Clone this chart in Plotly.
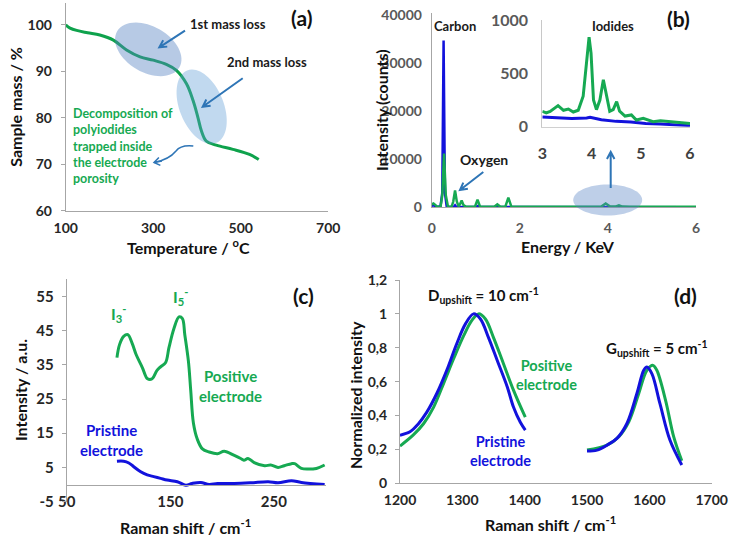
import math
import plotly.graph_objects as go

# ---------------- data ----------------
# (a) TGA
a_temp = [100, 110, 125, 150, 178, 209, 239, 270, 300, 330, 353, 376, 391, 402, 410, 421, 444, 482, 520, 541]
a_mass = [100, 99.3, 98.8, 98.3, 97.8, 96.7, 94.6, 93.1, 92.4, 91.5, 90.2, 87.3, 83.7, 80.1, 77.2, 75.0, 74.1, 73.2, 72.1, 71.0]
a_xticks = [100, 300, 500, 700]
a_yticks = [60, 70, 80, 90, 100]

# (b) EDX spectra
b_energy_green = [0.0, 0.04, 0.08, 0.13, 0.2, 0.24, 0.28, 0.32, 0.37, 0.45, 0.49, 0.53, 0.57, 0.61, 0.64,
                  0.68, 0.72, 0.78, 0.98, 1.04, 1.1, 1.42, 1.49, 1.56, 1.67, 1.74, 1.81, 1.95, 3.85, 3.95,
                  4.05, 4.17, 4.25, 4.33, 4.5, 6.0]
b_green = [600, 800, 500, 100, 100, 2500, 11200, 2500, 100, 100, 1200, 3500, 1200, 200, 600,
           1400, 500, 100, 100, 1600, 100, 100, 600, 100, 100, 2000, 100, 100, 150, 800,
           150, 150, 420, 150, 100, 100]
b_energy_blue = [0.0, 0.05, 0.12, 0.2, 0.24, 0.27, 0.30, 0.34, 0.4, 0.5, 0.53, 0.56, 1.0, 1.05, 1.1, 6.0]
b_blue = [300, 400, 50, 200, 3000, 34700, 3000, 200, 50, 50, 400, 50, 50, 300, 50, 30]
b_xticks = [0, 2, 4, 6]
b_yticks = [0, 10000, 20000, 30000, 40000]

# (b) inset
ins_energy_green = [3.0, 3.08, 3.16, 3.25, 3.32, 3.43, 3.53, 3.63, 3.73, 3.83, 3.9, 3.95, 3.99, 4.04, 4.1,
                    4.17, 4.24, 4.31, 4.37, 4.44, 4.51, 4.57, 4.68, 4.81, 4.91, 5.05, 5.25, 5.4, 5.59,
                    5.8, 6.0]
ins_green = [144, 130, 144, 170, 198, 154, 166, 138, 154, 285, 628, 840, 690, 250, 160,
             250, 440, 285, 145, 160, 235, 145, 100, 110, 62, 78, 47, 55, 47, 45, 30]
ins_energy_blue = [3.0, 3.3, 3.6, 3.9, 3.97, 4.2, 4.5, 4.8, 5.1, 5.4, 5.7, 6.0]
ins_blue = [90, 85, 78, 82, 88, 65, 50, 45, 30, 25, 20, 10]
ins_xticks = [3, 4, 5, 6]
ins_yticks = [0, 500, 1000]

# (c) Raman low shift
c_shift_pos = [98.5, 101, 105, 109, 113, 117, 123, 128, 132.5, 137, 140.6, 145.5, 148.7, 153.6, 158.4,
               161.7, 164, 167.5, 169.7, 172.3, 176, 181, 187.5, 195.6, 202, 211.8, 218, 221, 225,
               231, 241, 247, 254, 260, 267, 270, 276.5, 283, 291, 299]
c_pos = [37.1, 40.9, 43.3, 43.8, 41.4, 38, 34.2, 30.9, 30.9, 33.3, 34.4, 35.7, 40, 45.7, 49,
         48.5, 43.8, 36, 27.6, 18, 13.3, 10.4, 9.5, 9, 9.7, 8.5, 7.6, 7.1, 7.6,
         6.4, 5.5, 5.7, 5, 5.5, 6.1, 6.1, 4.7, 4.5, 4.7, 5.7]
c_shift_pri = [98.5, 105, 110, 114.7, 121, 127.7, 134, 140.6, 147, 156.8, 165, 171, 179.4, 187.5,
               195.6, 211.8, 228, 244.5, 254, 267, 276.5, 299]
c_pri = [6.8, 6.8, 6.3, 5.2, 3.8, 2.8, 2.3, 1.8, 1.3, 0.8, -0.2, 0.3, 0.6, 0,
         0.3, 0.3, 0.5, 0.8, 0.5, 1.1, 0.6, 0]
c_xticks = [50, 150, 250]
c_yticks = [-5, 5, 15, 25, 35, 45, 55]
c_yticktext = ["-5", "5", "15", "25", "35", "45", "55"]

# (d) Raman D and G bands
d_shift_pri_D = [1200, 1216, 1229, 1243, 1259, 1275, 1291, 1305, 1318, 1329, 1342, 1356, 1372, 1382, 1393, 1401]
d_pri_D = [0.284, 0.304, 0.349, 0.42, 0.53, 0.667, 0.824, 0.941, 1.0, 0.97, 0.86, 0.725, 0.57, 0.45, 0.36, 0.314]
d_shift_pos_D = [1200, 1221, 1238, 1254, 1270, 1286, 1302, 1315, 1326, 1337, 1350, 1366, 1382, 1401]
d_pos_D = [0.22, 0.284, 0.353, 0.45, 0.59, 0.735, 0.87, 0.96, 1.0, 0.97, 0.86, 0.706, 0.55, 0.39]
d_shift_pri_G = [1500, 1516, 1532, 1548, 1564, 1580, 1591, 1596, 1604, 1617, 1633, 1652]
d_pri_G = [0.19, 0.196, 0.225, 0.265, 0.353, 0.53, 0.667, 0.686, 0.647, 0.47, 0.255, 0.108]
d_shift_pos_G = [1500, 1532, 1551, 1567, 1583, 1596, 1606, 1612, 1626, 1639, 1652]
d_pos_G = [0.196, 0.225, 0.275, 0.363, 0.53, 0.667, 0.696, 0.667, 0.49, 0.275, 0.133]
d_xticks = [1200, 1300, 1400, 1500, 1600, 1700]
d_yticks = [0, 0.2, 0.4, 0.6, 0.8, 1.0, 1.2]
d_yticktext = ["0", "0,2", "0,4", "0,6", "0,8", "1", "1,2"]

# ---------------- styling ----------------
W, H = 733, 541
GREEN = "#16a952"
BLUE = "#1212dc"
ARROW = "#2e75b6"
AXC = "#a6a6a6"
FONT = "Lato"


def fx(x):
    return x / W


def fy(y):
    return 1 - y / H


def ellipse_path(cx, cy, a, b, deg):
    t = math.radians(deg)
    U = (math.cos(t), math.sin(t))
    V = (-math.sin(t), math.cos(t))
    k = 0.5523

    def P(ua, vb):
        x = cx + ua * U[0] + vb * V[0]
        y = cy + ua * U[1] + vb * V[1]
        return f"{fx(x):.5f},{fy(y):.5f}"

    segs = [((a, 0), (a, k * b), (k * a, b), (0, b)),
            ((0, b), (-k * a, b), (-a, k * b), (-a, 0)),
            ((-a, 0), (-a, -k * b), (-k * a, -b), (0, -b)),
            ((0, -b), (k * a, -b), (a, -k * b), (a, 0))]
    path = "M " + P(*segs[0][0])
    for s in segs:
        path += " C " + P(*s[1]) + " " + P(*s[2]) + " " + P(*s[3])
    return path + " Z"


def arrow_path(x0, y0, x1, y1, hl=8, ang=28):
    th = math.atan2(y0 - y1, x0 - x1)
    h1 = (x1 + hl * math.cos(th + math.radians(ang)), y1 + hl * math.sin(th + math.radians(ang)))
    h2 = (x1 + hl * math.cos(th - math.radians(ang)), y1 + hl * math.sin(th - math.radians(ang)))
    p = lambda x, y: f"{fx(x):.5f},{fy(y):.5f}"
    return (f"M {p(x0, y0)} L {p(x1, y1)} M {p(*h1)} L {p(x1, y1)} L {p(*h2)}")


fig = go.Figure()

# (a)
fig.add_trace(go.Scatter(x=a_temp, y=a_mass, mode="lines", line=dict(color="#0ea24c", width=3, shape="spline"),
                         xaxis="x", yaxis="y", showlegend=False))
# (b)
fig.add_trace(go.Scatter(x=b_energy_blue, y=b_blue, mode="lines", line=dict(color=BLUE, width=2.5),
                         xaxis="x2", yaxis="y2", showlegend=False))
fig.add_trace(go.Scatter(x=b_energy_green, y=b_green, mode="lines", line=dict(color=GREEN, width=2.5),
                         xaxis="x2", yaxis="y2", showlegend=False))
# inset
fig.add_trace(go.Scatter(x=ins_energy_blue, y=ins_blue, mode="lines", line=dict(color=BLUE, width=3),
                         xaxis="x3", yaxis="y3", showlegend=False))
fig.add_trace(go.Scatter(x=ins_energy_green, y=ins_green, mode="lines", line=dict(color=GREEN, width=3),
                         xaxis="x3", yaxis="y3", showlegend=False))
# (c)
fig.add_trace(go.Scatter(x=c_shift_pos, y=c_pos, mode="lines", line=dict(color=GREEN, width=3, shape="spline"),
                         xaxis="x4", yaxis="y4", showlegend=False))
fig.add_trace(go.Scatter(x=c_shift_pri, y=c_pri, mode="lines", line=dict(color=BLUE, width=3, shape="spline"),
                         xaxis="x4", yaxis="y4", showlegend=False))
# (d)
for xs, ys, col in [(d_shift_pos_D, d_pos_D, GREEN), (d_shift_pri_D, d_pri_D, BLUE),
                    (d_shift_pos_G, d_pos_G, GREEN), (d_shift_pri_G, d_pri_G, BLUE)]:
    fig.add_trace(go.Scatter(x=xs, y=ys, mode="lines", line=dict(color=col, width=3, shape="spline"),
                             xaxis="x5", yaxis="y5", showlegend=False))


def axis(domain, rng, tickvals, size=14, color="#262626", ticks="", **kw):
    d = dict(domain=domain, range=rng, tickvals=tickvals, showgrid=False, zeroline=False,
             showline=True, linecolor=AXC, linewidth=1, ticks=ticks, ticklen=4, tickcolor=AXC,
             automargin=False,
             tickfont=dict(family=FONT, size=size, color=color, weight="bold"), fixedrange=True)
    d.update(kw)
    return d


fig.update_layout(
    template="none",
    width=W, height=H, margin=dict(l=0, r=0, t=0, b=0, pad=0, autoexpand=False),
    paper_bgcolor="white", plot_bgcolor="rgba(0,0,0,0)", showlegend=False,
    xaxis=axis([fx(65.7), fx(328.3)], [100, 700], a_xticks, anchor="y", ticklabelstandoff=4),
    yaxis=axis([fy(210.7), fy(3)], [60, 104.7], a_yticks, anchor="x", ticks="outside", ticklabelstandoff=6),
    xaxis2=axis([fx(431.7), fx(696)], [0, 6], b_xticks, color="#595959", anchor="y2", ticklabelstandoff=8),
    yaxis2=axis([fy(207.3), fy(13)], [0, 40400], b_yticks, color="#595959", anchor="x2", ticklabelstandoff=6,
                tickformat="d"),
    xaxis3=axis([fx(542.3), fx(690)], [3, 6], ins_xticks, size=16, color="#404040", anchor="y3",
                linecolor="#d0d0d0", ticklabelstandoff=12),
    yaxis3=axis([fy(126.7), fy(20)], [0, 1000], ins_yticks, size=16, color="#595959", anchor="x3",
                linecolor="#c8c8c8", ticklabelstandoff=10, tickformat="d"),
    xaxis4=axis([fx(66.7), fx(325.7)], [50, 300], c_xticks, size=15, anchor="free", position=fy(484.5),
                ticklabelstandoff=3),
    yaxis4=axis([fy(501.6), fy(279.3)], [-5, 60], c_yticks, size=15, anchor="x4", ticks="outside",
                ticktext=c_yticktext, ticklabelstandoff=5),
    xaxis5=axis([fx(400), fx(711.7)], [1200, 1700], d_xticks, size=14, anchor="y5", ticklabelstandoff=4),
    yaxis5=axis([fy(483.3), fy(280)], [0, 1.2], d_yticks, size=14, anchor="x5", ticks="outside",
                ticktext=d_yticktext, ticklabelstandoff=5),
)

shapes = []
# ellipses
shapes.append(dict(type="path", path=ellipse_path(148.3, 49.3, 36, 23, 30), xref="paper", yref="paper",
                   fillcolor="rgba(84,128,194,0.42)", line=dict(width=0)))
shapes.append(dict(type="path", path=ellipse_path(201.7, 106.7, 39, 22, 68), xref="paper", yref="paper",
                   fillcolor="rgba(91,155,213,0.38)", line=dict(width=0)))
shapes.append(dict(type="path", path=ellipse_path(607.7, 200, 34.5, 15.5, 0), xref="paper", yref="paper",
                   fillcolor="rgba(84,128,194,0.38)", line=dict(width=0)))
# arrows
for (x0, y0, x1, y1) in [(185, 30.7, 159.3, 47.3), (242.7, 78.3, 202.7, 106.7),
                         (483.3, 172, 460, 190), (610.7, 188, 610.7, 152)]:
    shapes.append(dict(type="path", path=arrow_path(x0, y0, x1, y1), xref="paper", yref="paper",
                       line=dict(color=ARROW, width=2)))
# curvy arrow in (a)
p = lambda x, y: f"{fx(x):.5f},{fy(y):.5f}"
curvy = (f"M {p(193.3, 146)} C {p(184, 145)} {p(179, 147)} {p(176, 151)} "
         f"C {p(172, 156)} {p(167, 160)} {p(154, 162.5)}")
shapes.append(dict(type="path", path=curvy, xref="paper", yref="paper", line=dict(color=ARROW, width=1.5)))
shapes.append(dict(type="path", path=arrow_path(162, 161, 154, 162.5, hl=7, ang=35), xref="paper",
                   yref="paper", line=dict(color=ARROW, width=1.5)))
fig.update_layout(shapes=shapes)

ann = []


def T(x, y, text, size=13, color="#1a1a1a", angle=0, xanchor="center", align="center"):
    ann.append(dict(x=fx(x), y=fy(y), xref="paper", yref="paper", text=text, showarrow=False,
                    textangle=angle, xanchor=xanchor, yanchor="middle", align=align,
                    font=dict(family=FONT, size=size, color=color, weight="bold")))


# panel labels
T(301.7, 18, "(a)", size=21, color="#111")
T(678.3, 18.3, "(b)", size=21, color="#111")
T(303.3, 295, "(c)", size=21, color="#111")
T(685, 295, "(d)", size=21, color="#111")
# axis titles
T(16, 106.7, "Sample mass / %", size=16, color="#111", angle=-90)
T(188.3, 246.7, "Temperature / <sup>o</sup>C", size=16, color="#111")
T(381, 110, "Intensity (counts)", size=16, color="#111", angle=-90)
T(568.3, 246.7, "Energy / KeV", size=16, color="#111")
T(20, 390, "Intensity / a.u.", size=16, color="#111", angle=-90)
T(185, 526.7, "Raman shift / cm<sup>-1</sup>", size=16, color="#111")
T(355, 395, "Normalized intensity", size=16, color="#111", angle=-90)
T(550, 523.3, "Raman shift / cm<sup>-1</sup>", size=16, color="#111")
# (a) texts
T(228, 24, "1st mass loss", size=13)
T(266.7, 62.3, "2nd mass loss", size=13)
T(70.7, 145.7, "Decomposition of<br>polyiodides<br>trapped inside<br>the electrode<br>porosity", size=12.5,
  color=GREEN, xanchor="left", align="left")
# (b) texts
T(455, 26, "Carbon", size=13)
T(612.7, 26, "Iodides", size=13)
T(484, 159.3, "Oxygen", size=14)
# (c) texts
T(118.3, 313.3, "I<sub>3</sub><sup>-</sup>", size=16, color=GREEN)
T(180, 296.7, "I<sub>5</sub><sup>-</sup>", size=16, color=GREEN)
T(230, 385.5, "Positive<br>electrode", size=15, color=GREEN)
T(111.7, 439.5, "Pristine<br>electrode", size=15, color=BLUE)
# (d) texts
T(483.3, 295, "D<sub>upshift</sub> = 10 cm<sup>-1</sup>", size=15, color="#111")
T(656.7, 348.3, "G<sub>upshift</sub> = 5 cm<sup>-1</sup>", size=15, color="#111")
T(546, 375, "Positive<br>electrode", size=14.5, color=GREEN)
T(500, 451, "Pristine<br>electrode", size=14.5, color=BLUE)
fig.update_layout(annotations=ann)

fig.write_html("out.html", config={"displayModeBar": False},
               post_script="document.body.style.margin='0px';document.body.style.overflow='hidden';")
